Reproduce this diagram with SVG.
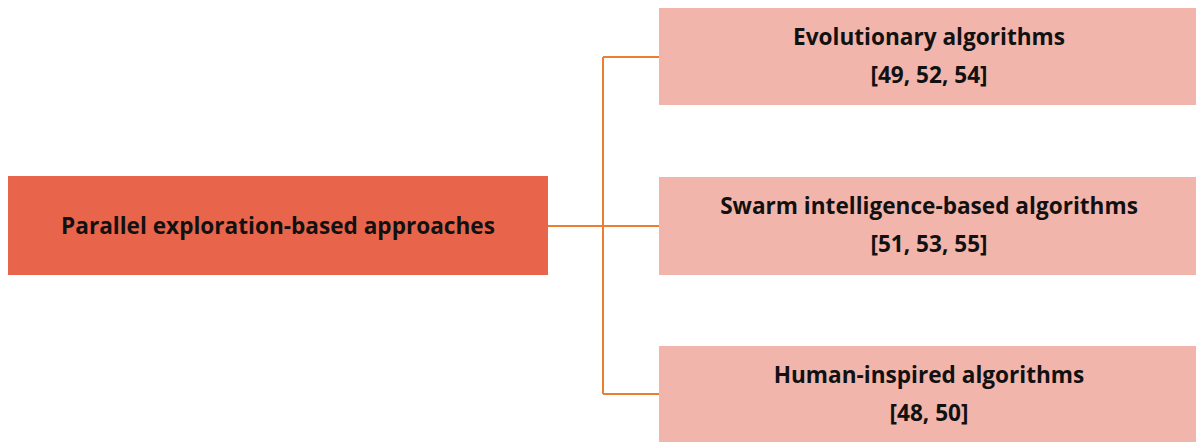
<svg xmlns="http://www.w3.org/2000/svg" width="1196" height="442" viewBox="0 0 1196 442">
  <style>
    .root { fill: #E8654C; }
    .leaf { fill: #F2B5AB; }
    .label { font-family: "Open Sans", "Liberation Sans", sans-serif; font-weight: 700; font-size: 22.6px; fill: #111111; text-anchor: middle; }
    .link { stroke: #ED7D31; stroke-width: 2; fill: none; }
  </style>
  <rect width="1196" height="442" fill="#FFFFFF"/>

  <g id="connectors">
    <path class="link" d="M548 226 H603"/>
    <path class="link" d="M603 57 V394"/>
    <path class="link" d="M603 57 H659"/>
    <path class="link" d="M603 226 H659"/>
    <path class="link" d="M603 394 H659"/>
  </g>

  <g id="parallel-exploration">
    <rect class="root" x="8" y="176" width="540" height="99"/>
    <text class="label" x="278" y="234">Parallel exploration-based approaches</text>
  </g>

  <g id="evolutionary">
    <rect class="leaf" x="659" y="8" width="537" height="97"/>
    <text class="label" x="929" y="45">Evolutionary algorithms</text>
    <text class="label" x="929" y="83">[49, 52, 54]</text>
  </g>

  <g id="swarm">
    <rect class="leaf" x="659" y="177" width="537" height="98"/>
    <text class="label" x="929" y="214">Swarm intelligence-based algorithms</text>
    <text class="label" x="929" y="252">[51, 53, 55]</text>
  </g>

  <g id="human-inspired">
    <rect class="leaf" x="659" y="346" width="537" height="96"/>
    <text class="label" x="929" y="383">Human-inspired algorithms</text>
    <text class="label" x="929" y="421">[48, 50]</text>
  </g>
</svg>
